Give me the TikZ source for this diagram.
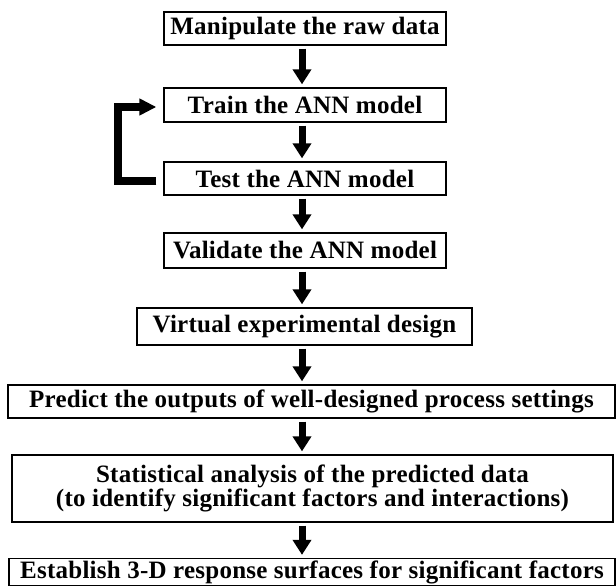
\documentclass[tikz,border=0pt]{standalone}
\usepackage{fontspec}
\setmainfont{Liberation Serif}
\usetikzlibrary{arrows.meta}

\begin{document}
\begin{tikzpicture}[x=1pt,y=1pt,yscale=-1,xscale=1,
  stepbox/.style={draw, line width=1.3pt, inner sep=0pt, align=center,
    font=\fontsize{25}{22.5}\selectfont\bfseries\addfontfeatures{LetterSpace=1}},
  flow/.style={line width=7pt, -{Triangle[width=18pt,length=15pt]}, shorten <=3pt, shorten >=3pt},
  backflow/.style={line width=8pt, line join=miter, -{Triangle[width=16pt,length=17pt]}}]
%set diagram left start at 0, and has height of 586
\useasboundingbox (0,0) rectangle (616,586);

% Text Node
\node[stepbox, minimum width=282pt, minimum height=33pt] (manip) at (305,28.5) {Manipulate the raw data};
% Text Node
\node[stepbox, minimum width=282pt, minimum height=34pt] (train) at (305,105) {Train the ANN model};
% Text Node
\node[stepbox, minimum width=282pt, minimum height=33pt] (test) at (305,178.5) {Test the ANN model};
% Text Node
\node[stepbox, minimum width=282pt, minimum height=35pt] (valid) at (305,250.5) {Validate the ANN model};
% Text Node
\node[stepbox, minimum width=335pt, minimum height=37pt] (virtual) at (304.5,326.5) {Virtual experimental design};
% Text Node
\node[stepbox, minimum width=607pt, minimum height=33pt] (predict) at (311.5,401.5) {Predict the outputs of well-designed process settings};
% Text Node
\node[stepbox, minimum width=601pt, minimum height=67pt] (stat) at (312.5,488.5) {Statistical analysis of the predicted data\\(to identify significant factors and interactions)};
% Text Node
\node[stepbox, minimum width=606pt, minimum height=27pt] (surf) at (312,572) {Establish 3-D response surfaces for significant factors};

%Straight Lines
\coordinate (axis) at (302,0);
\draw[flow] (manip.south -| axis) -- (train.north -| axis);
\draw[flow] (train.south -| axis) -- (test.north -| axis);
\draw[flow] (test.south -| axis) -- (valid.north -| axis);
\draw[flow] (valid.south -| axis) -- (virtual.north -| axis);
\draw[flow] (virtual.south -| axis) -- (predict.north -| axis);
\draw[flow] (predict.south -| axis) -- (stat.north -| axis);
\draw[flow] (stat.south -| axis) -- (surf.north -| axis);

%Straight Lines (feedback)
\draw[backflow] ([shift={(-7,2.5)}]test.west) -- ++(-38,0) |- ([shift={(-7,2)}]train.west);

\end{tikzpicture}
\end{document}
